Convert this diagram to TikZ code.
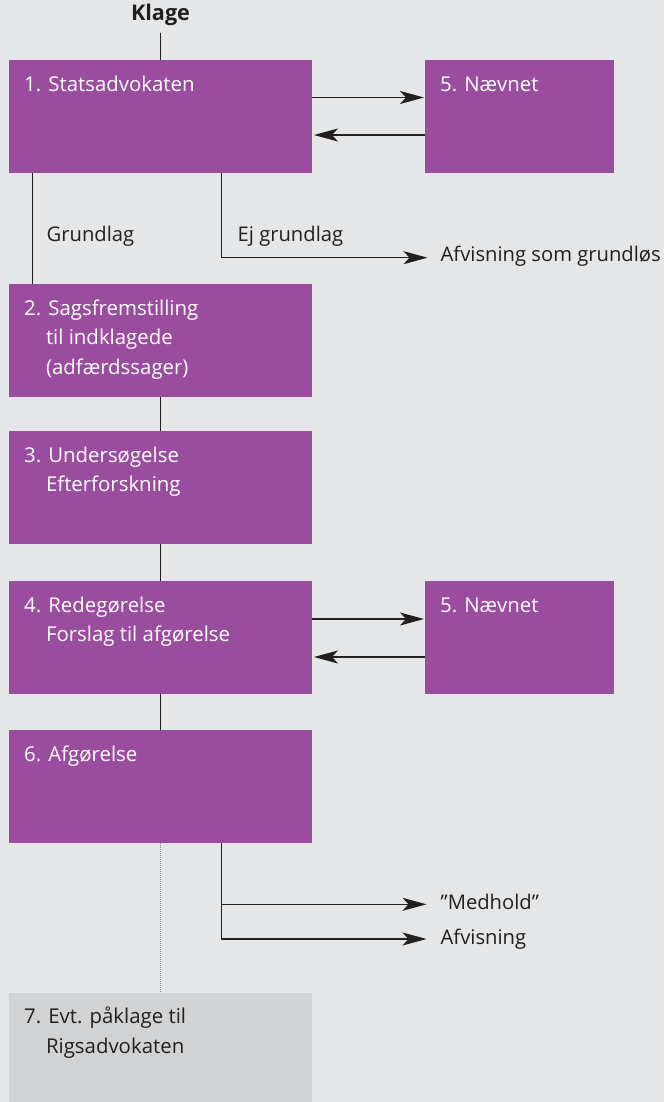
\documentclass[tikz,border=0pt]{standalone}
\usepackage{fontspec}
\setmainfont{Open Sans}
\usetikzlibrary{arrows.meta}
\definecolor{bg}{HTML}{E6E7E8}
\definecolor{purp}{HTML}{9A4D9E}
\definecolor{greyseven}{HTML}{D1D3D4}
\definecolor{ink}{HTML}{231F20}
\definecolor{dotgrey}{HTML}{8A8C8E}
\newcommand\firststrut{\rule{0pt}{20pt}}
\newcommand\hangin{\hspace*{21.8pt}}
\begin{document}
\begin{tikzpicture}[x=1pt,y=-1pt,
  box/.style={rectangle, fill=purp, draw=none, minimum width=303pt, minimum height=113pt, inner sep=0pt, outer sep=0pt, anchor=north west},
  nbox/.style={box, minimum width=189pt},
  btext/.style={anchor=north west, inner sep=0pt, align=left, text=white, font=\fontsize{20.4}{29.5}\selectfont},
  lab/.style={anchor=base west, inner sep=0pt, text=ink, font=\fontsize{20.2}{24}\selectfont},
  conn/.style={draw=ink, line width=1.1pt},
  arr/.style={conn, -{Stealth[length=24pt,width=13pt,inset=6pt]}},
  dotline/.style={draw=dotgrey, line width=0.9pt, dash pattern=on 0.7pt off 1.3pt}]
\useasboundingbox (0,0) rectangle (664,1102);
\fill[bg] (0,0) rectangle (664,1102);

% boxes
\node[box] (b1) at (9,60) {};
\node[nbox] (n1) at (425,60) {};
\node[box] (b2) at (9,284) {};
\node[box] (b3) at (9,431) {};
\node[box] (b4) at (9,581) {};
\node[nbox] (n2) at (425,581) {};
\node[box] (b6) at (9,730) {};
\node[box, fill=greyseven, minimum height=109.3pt] (b7) at (9,992.7) {};

% box texts
\node[btext] (t1) at ([xshift=15pt,yshift=-11pt]b1.north west) {\firststrut 1. Statsadvokaten};
\node[btext] (tn1) at ([xshift=15pt,yshift=-11pt]n1.north west) {\firststrut 5. Nævnet};
\node[btext] (t2) at ([xshift=15pt,yshift=-11pt]b2.north west) {\firststrut 2. Sagsfremstilling\\\hangin til indklagede\\\hangin (adfærdssager)};
\node[btext] (t3) at ([xshift=15pt,yshift=-11pt]b3.north west) {\firststrut 3. Undersøgelse\\\hangin Efterforskning};
\node[btext] (t4) at ([xshift=15pt,yshift=-11pt]b4.north west) {\firststrut 4. Redegørelse\\\hangin Forslag til afgørelse};
\node[btext] (tn2) at ([xshift=15pt,yshift=-11pt]n2.north west) {\firststrut 5. Nævnet};
\node[btext] (t6) at ([xshift=15pt,yshift=-11pt]b6.north west) {\firststrut 6. Afgørelse};
\node[btext, text=ink] (t7) at ([xshift=15pt,yshift=-11pt]b7.north west) {\firststrut 7. Evt. påklage til\\\hangin Rigsadvokaten};

% labels
\node[anchor=base, inner sep=0pt, text=ink, font=\bfseries\fontsize{21.6}{24}\selectfont] (klage) at (160.5,20.9) {Klage};
\node[lab] (grl) at (46.5,241) {Grundlag};
\node[lab] (ejg) at (237.5,241) {Ej grundlag};
\node[lab] (afv1) at (440.5,261.7) {Afvisning som grundløs};
\node[lab] (med) at (440.5,909.3) {”Medhold”};
\node[lab] (afv2) at (440.5,944) {Afvisning};

% connectors
\coordinate (kl) at ([yshift=-12.1pt]klage.base);
\draw[conn] (kl) -- (b1.north);
\draw[arr] ([yshift=-37.5pt]b1.north east) -- ([xshift=-1pt,yshift=-37.5pt]n1.north west);
\draw[arr] ([yshift=-75pt]n1.north west) -- ([xshift=2pt,yshift=-75pt]b1.north east);
\draw[conn] ([xshift=23.3pt]b1.south west) -- ([xshift=23.3pt]b2.north west);
\coordinate (ejtip) at ([xshift=-13pt,yshift=4pt]afv1.base west);
\draw[arr] ([xshift=212.7pt]b1.south west) |- (ejtip);
\draw[conn] (b2.south) -- (b3.north);
\draw[conn] (b3.south) -- (b4.north);
\draw[arr] ([yshift=-38pt]b4.north east) -- ([xshift=-1pt,yshift=-38pt]n2.north west);
\draw[arr] ([yshift=-76pt]n2.north west) -- ([xshift=2pt,yshift=-76pt]b4.north east);
\draw[conn] (b4.south) -- (b6.north);
\draw[dotline] (b6.south) -- (b7.north);
\coordinate (b6out) at ([xshift=212.7pt]b6.south west);
\coordinate (medtip) at ([xshift=-14pt,yshift=5pt]med.base west);
\coordinate (afvtip) at ([xshift=-14pt,yshift=5pt]afv2.base west);
\draw[arr] (b6out) |- (afvtip);
\draw[arr] (b6out |- medtip) -- (medtip);
\end{tikzpicture}
\end{document}
